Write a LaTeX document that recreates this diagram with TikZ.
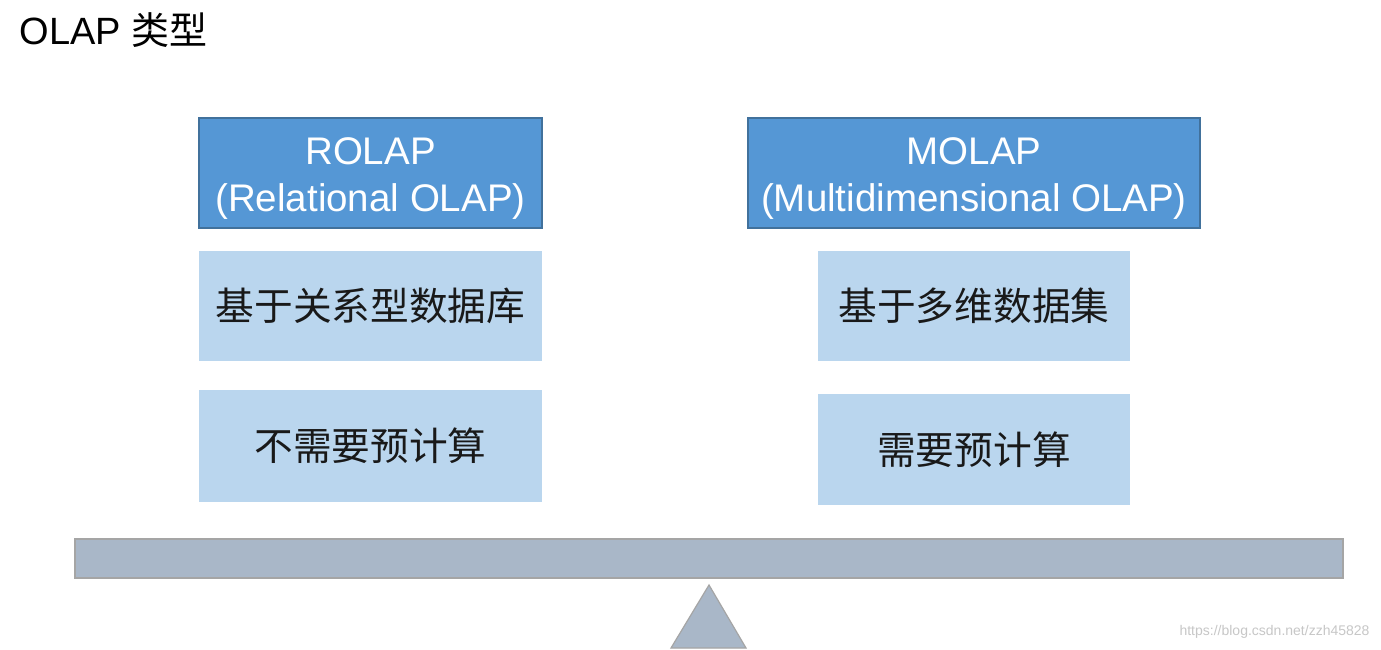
\documentclass[tikz,border=0pt]{standalone}
\usepackage{fontspec}
\setmainfont{Liberation Sans}
\newfontfamily\cjk{Noto Sans CJK SC}

\definecolor{headblue}{HTML}{5597D5}
\definecolor{headedge}{HTML}{41719C}
\definecolor{cellblue}{HTML}{BAD6EE}
\definecolor{beamgray}{HTML}{A9B7C8}
\definecolor{beamedge}{HTML}{A5A5A5}

\tikzset{
    headbox/.style={draw=headedge, line width=1.2pt, fill=headblue, inner sep=0pt},
    headtext/.style={text=white, inner sep=0pt, align=center, font=\fontsize{38.5}{47}\selectfont},
    cellbox/.style={fill=cellblue, inner sep=0pt, text=black!90,
        font=\cjk\fontsize{38.7}{44}\selectfont},
}

\begin{document}
\begin{tikzpicture}[x=1pt, y=-1pt]
        \useasboundingbox[fill=white] (0,0) rectangle (1381,650);
        \node[anchor=west, font=\fontsize{38}{40}\selectfont] (title) at (16,30) {OLAP {\cjk 类型}};

        \node[headbox, minimum width=343pt, minimum height=110pt] (rolap) at (370.5,173) {};
        \node[headtext] (rolaptext) at ([yshift=-6pt]rolap.center) {ROLAP\\(Relational OLAP)};
        \node[headbox, minimum width=452pt, minimum height=110pt] (molap) at (974,173) {};
        \node[headtext] (molaptext) at ([yshift=-6pt]molap.center) {MOLAP\\(Multidimensional OLAP)};

        \node[cellbox, minimum width=343pt, minimum height=110pt] (rbase) at (370.5,306) {基于关系型数据库};
        \node[cellbox, minimum width=343pt, minimum height=112pt] (rcalc) at (370.5,446) {不需要预计算};
        \node[cellbox, minimum width=312pt, minimum height=110pt] (mbase) at (974,306) {基于多维数据集};
        \node[cellbox, minimum width=312pt, minimum height=111pt] (mcalc) at (974,449.5) {需要预计算};

        \node[draw=beamedge, line width=1.5pt, fill=beamgray, minimum width=1268pt, minimum height=39pt] (beam) at (709,558.5) {};
        \draw[draw=beamedge, line width=1.2pt, fill=beamgray] (709,585) -- (746,648) -- (671,648) -- cycle;

        \node[anchor=east, text=black!22, font=\fontsize{14}{16}\selectfont] (mark) at (1373,632) {https://blog.csdn.net/zzh45828};
    \end{tikzpicture}
\end{document}
